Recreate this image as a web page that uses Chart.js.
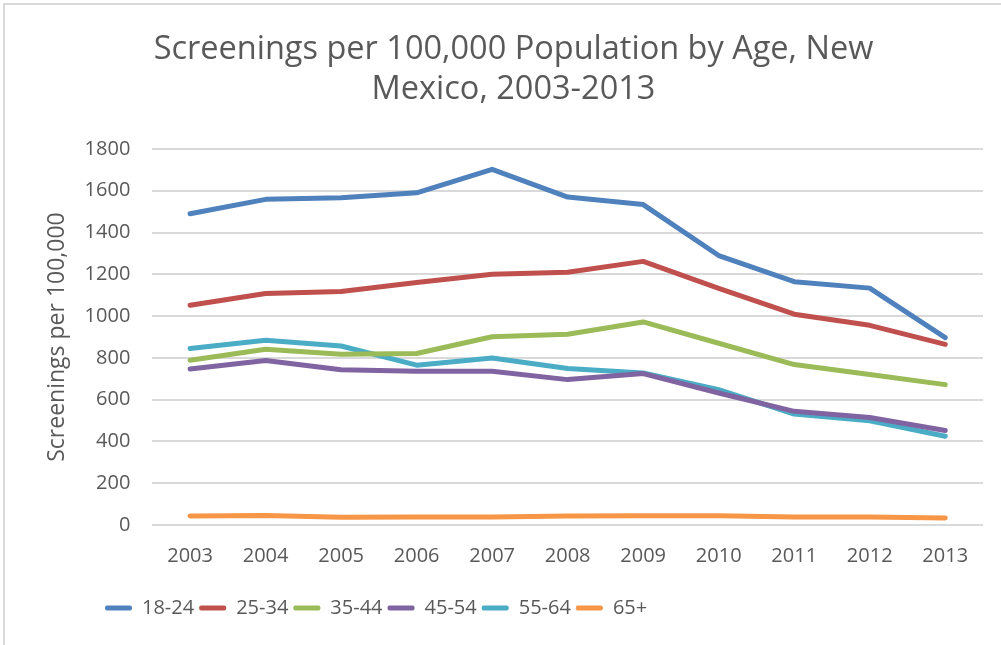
<!DOCTYPE html>
<html>
<head>
<meta charset="utf-8">
<script src="https://cdn.jsdelivr.net/npm/chart.js@4.4.0/dist/chart.umd.min.js"></script>
<style>
  html, body { margin: 0; padding: 0; background: #fff; }
  #wrap { position: relative; width: 1001px; height: 645px; overflow: hidden; }
  #frame { position: absolute; left: 3px; top: 3px; width: 1020px; height: 660px; border: 2px solid #d9d9d9; box-sizing: border-box; }
  canvas { position: absolute; left: 0; top: 0; }
</style>
</head>
<body>
<div id="wrap">
  <div id="frame"></div>
  <canvas id="chart" width="1001" height="645"></canvas>
</div>
<script>
// 数据
const years = ['2003', '2004', '2005', '2006', '2007', '2008', '2009', '2010', '2011', '2012', '2013'];
const age18_24 = [1490, 1559, 1567, 1590, 1702, 1570, 1534, 1290, 1165, 1134, 897];
const age25_34 = [1052, 1108, 1118, 1161, 1200, 1210, 1262, 1133, 1009, 956, 865];
const age35_44 = [789, 841, 817, 821, 901, 913, 972, 870, 768, 720, 672];
const age45_54 = [747, 788, 743, 736, 736, 696, 725, 632, 544, 515, 452];
const age55_64 = [845, 884, 857, 765, 799, 749, 728, 648, 531, 499, 425];
const age65plus = [43, 45, 37, 38, 38, 43, 44, 44, 38, 38, 34];
const yTicks = [0, 200, 400, 600, 800, 1000, 1200, 1400, 1600, 1800];

const textColor = '#595959';
const fontFamily = '"Open Sans", sans-serif';

function series(label, data, color) {
    return {
        label: label,
        data: data,
        borderColor: color,
        backgroundColor: color,
        borderWidth: 5,
        borderCapStyle: 'round',
        borderJoinStyle: 'round',
        pointRadius: 0,
        tension: 0,
        fill: false
    };
}

// 图例向左移动
const legendShift = {
    id: 'legendShift',
    afterLayout(chart) {
        chart.legend.left = 100;
    }
};

new Chart(document.getElementById('chart'), {
    type: 'line',
    data: {
        labels: years,
        datasets: [
            series('18-24', age18_24, '#4F81BD'),
            series('25-34', age25_34, '#C0504D'),
            series('35-44', age35_44, '#9BBB59'),
            series('45-54', age45_54, '#8064A2'),
            series('55-64', age55_64, '#4BACC6'),
            series('65+', age65plus, '#F79646')
        ]
    },
    options: {
        responsive: false,
        animation: false,
        layout: {
            padding: { left: 44, right: 18, top: 0, bottom: 17 }
        },
        plugins: {
            title: {
                display: true,
                text: ['Screenings per 100,000 Population by Age, New', 'Mexico, 2003-2013'],
                color: textColor,
                font: { family: fontFamily, size: 32.5, weight: 'normal', lineHeight: 40 / 32.5 },
                padding: { top: 30, bottom: 39 }
            },
            legend: {
                position: 'bottom',
                align: 'start',
                labels: {
                    color: textColor,
                    font: { family: fontFamily, size: 20 },
                    boxWidth: 27,
                    boxHeight: 5,
                    padding: 5,
                    generateLabels(chart) {
                        return Chart.defaults.plugins.legend.labels.generateLabels(chart).map(function (item) {
                            item.lineWidth = 0;
                            item.borderRadius = 2;
                            return item;
                        });
                    }
                }
            },
            tooltip: { enabled: false }
        },
        scales: {
            x: {
                offset: true,
                grid: { display: false },
                border: { display: false },
                afterFit(axis) {
                    axis.height += 14;
                },
                ticks: {
                    color: textColor,
                    font: { family: fontFamily, size: 20 },
                    padding: 11,
                    maxRotation: 0
                }
            },
            y: {
                min: 0,
                max: 1800,
                afterBuildTicks(axis) {
                    axis.ticks = yTicks.map(function (v) { return { value: v }; });
                },
                afterFit(axis) {
                    axis.width -= 21;
                },
                grid: { color: '#d9d9d9', lineWidth: 2, drawTicks: false },
                border: { display: false },
                ticks: {
                    color: textColor,
                    font: { family: fontFamily, size: 20 },
                    padding: 22,
                    callback: function (value) { return String(value); }
                },
                title: {
                    display: true,
                    text: 'Screenings per 100,000',
                    color: textColor,
                    font: { family: fontFamily, size: 23 },
                    padding: { top: 0, bottom: 12 }
                }
            }
        }
    },
    plugins: [legendShift]
});
</script>
</body>
</html>
